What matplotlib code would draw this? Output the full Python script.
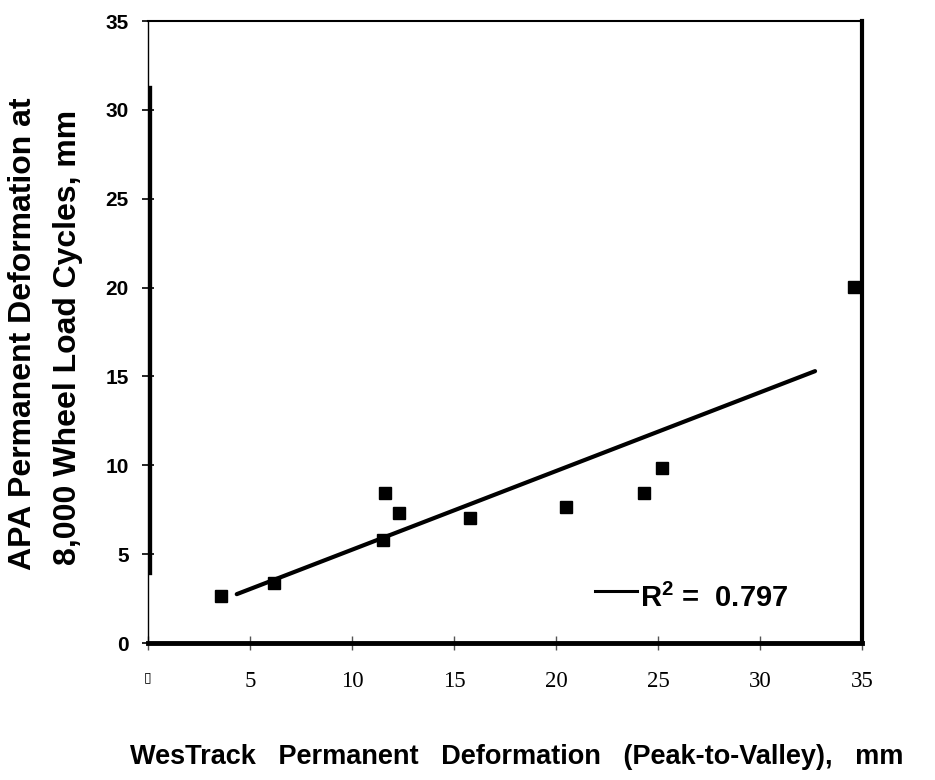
"""WesTrack vs APA permanent deformation scatter with trend line."""
import matplotlib
matplotlib.use('Agg')
import matplotlib.pyplot as plt

# measured pairs (mm)
wes_x = [3.6, 6.2, 11.5, 11.6, 12.3, 15.8, 20.5, 24.3, 25.2, 34.6]
apa_y = [2.65, 3.4, 5.8, 8.45, 7.3, 7.05, 7.65, 8.45, 9.85, 20.05]

# trend line end points as drawn in the figure
trend_x = [4.35, 32.7]
trend_y = [2.75, 15.3]

r2_text = r'$\mathbf{R^2}$ =  0.797'

x_ticks = [0, 5, 10, 15, 20, 25, 30, 35]
x_tick_labels = ['\u25af', '5', '10', '15', '20', '25', '30', '35']
y_ticks = [0, 5, 10, 15, 20, 25, 30, 35]

plt.rcParams['mathtext.fontset'] = 'custom'
plt.rcParams['mathtext.bf'] = 'Liberation Sans:bold'
plt.rcParams['mathtext.rm'] = 'Liberation Sans:bold'

fig = plt.figure(figsize=(9.35, 7.8), dpi=100)
ax = fig.add_axes([0.1583, 0.1756, 0.7636, 0.7974])

ax.plot(wes_x, apa_y, 's', color='black', markersize=8, zorder=3)
ax.plot(trend_x, trend_y, '-', color='black', lw=3, solid_capstyle='round')

ax.set_xlim(0, 35)
ax.set_ylim(0, 35)
ax.set_xticks(x_ticks)
ax.set_xticklabels(x_tick_labels, family=['Liberation Serif', 'DejaVu Sans'], fontsize=16.5)
ax.get_xticklabels()[0].set_fontsize(10)
ax.set_yticks(y_ticks)
ax.set_yticklabels([str(v) for v in y_ticks], family='Liberation Sans',
                   fontweight='bold', fontsize=15)
ax.tick_params(axis='x', direction='inout', length=10, width=1, color='#555555', pad=15)
ax.tick_params(axis='y', direction='inout', length=8, width=1.2, pad=10)

for side, lw in [('left', 1.0), ('top', 1.5), ('right', 3.0), ('bottom', 3.5)]:
    ax.spines[side].set_linewidth(lw)
    ax.spines[side].set_color('black')

# heavy stroke along the left edge of the scanned frame
ax.plot([0.003, 0.003], [0.113, 0.894], transform=ax.transAxes, color='black',
        lw=2.4, clip_on=False)

# R^2 key
ax.plot([0.626, 0.685], [0.084, 0.084], transform=ax.transAxes, color='black', lw=2.2)
ax.text(0.689, 0.058, r2_text, transform=ax.transAxes, fontsize=21,
        family='Liberation Sans', fontweight='bold', va='baseline', ha='left')

lab = dict(family='Liberation Sans', fontweight='bold')
fig.text(517 / 935, 1 - 757 / 780, 'WesTrack   Permanent   Deformation   (Peak-to-Valley),   mm',
         ha='center', va='center', fontsize=19.5, **lab)
fig.text(23 / 935, 1 - 334 / 780, 'APA Permanent Deformation at', rotation=90,
         ha='center', va='center', fontsize=23, **lab)
fig.text(68 / 935, 1 - 337 / 780, '8,000 Wheel Load Cycles, mm', rotation=90,
         ha='center', va='center', fontsize=23, **lab)

fig.savefig('out.png', dpi=100)
